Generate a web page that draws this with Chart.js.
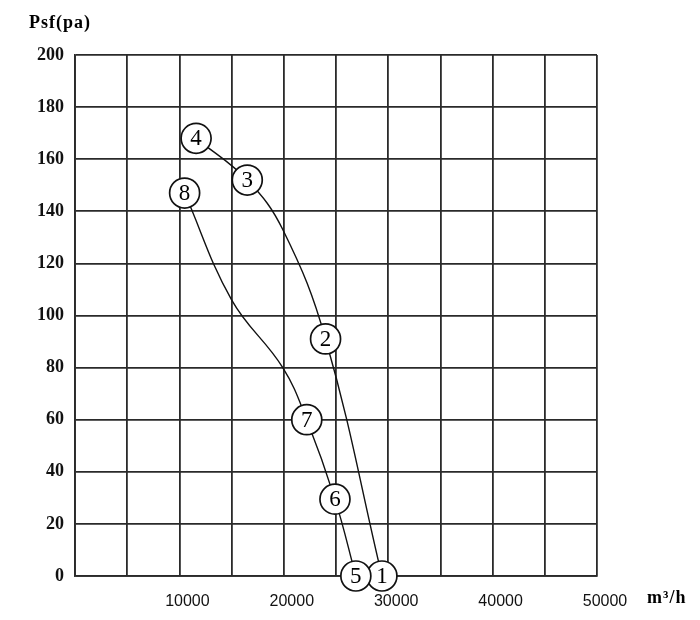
<!DOCTYPE html>
<html>
<head>
<meta charset="utf-8">
<script src="https://cdn.jsdelivr.net/npm/chart.js@4.4.1/dist/chart.umd.min.js"></script>
<style>
  html, body { margin: 0; padding: 0; background: #fff; }
  #wrap { width: 700px; height: 620px; position: relative; }
</style>
</head>
<body>
<div id="wrap"><canvas id="fanChart"></canvas></div>
<script>
// numbered operating points
const pointLabels = ['1', '2', '3', '4', '5', '6', '7', '8'];
const pointFlow = [29400, 24000, 16500, 11600, 26900, 24900, 22200, 10500];
const pointPsf = [0, 91, 152, 168, 0, 29.5, 60, 147];

// curve traces (extra points read where the curves bend between the markers)
const curveAFlow = [29400, 24000, 19900, 16500, 11600];
const curveAPsf = [0, 91, 133, 152, 168];
const curveBFlow = [26900, 24900, 22200, 19900, 15000, 10500];
const curveBPsf = [0, 29.5, 60, 80, 106, 147];

const xTicks = [10000, 20000, 30000, 40000, 50000];

const toXY = (xs, ys) => xs.map((x, i) => ({ x: x, y: ys[i] }));

// draws the numbers inside the circles and the two axis titles
const labelPlugin = {
  id: 'labels',
  afterDatasetsDraw(chart) {
    const ctx = chart.ctx;
    const meta = chart.getDatasetMeta(2);
    ctx.save();
    ctx.fillStyle = '#000';
    ctx.font = '23px "Liberation Serif", "DejaVu Serif", serif';
    ctx.textAlign = 'center';
    ctx.textBaseline = 'middle';
    meta.data.forEach((pt, i) => {
      ctx.fillText(pointLabels[i], pt.x, pt.y + 1);
    });
    ctx.font = 'bold 18px "Liberation Serif", "DejaVu Serif", serif';
    ctx.textAlign = 'left';
    ctx.letterSpacing = '1px';
    ctx.fillText('Psf(pa)', 29, 23);
    ctx.fillText('m³/h', 647, 598);
    ctx.restore();
  }
};

new Chart(document.getElementById('fanChart'), {
  type: 'scatter',
  data: {
    datasets: [
      {
        data: toXY(curveAFlow, curveAPsf),
        showLine: true,
        borderColor: '#111',
        borderWidth: 1.4,
        pointRadius: 0,
        tension: 0.4,
        order: 2
      },
      {
        data: toXY(curveBFlow, curveBPsf),
        showLine: true,
        borderColor: '#111',
        borderWidth: 1.4,
        pointRadius: 0,
        tension: 0.4,
        order: 2
      },
      {
        data: toXY(pointFlow, pointPsf),
        showLine: false,
        pointRadius: 15,
        pointBackgroundColor: '#fff',
        pointBorderColor: '#111',
        pointBorderWidth: 1.7,
        clip: false,
        order: 0
      }
    ]
  },
  options: {
    responsive: true,
    maintainAspectRatio: false,
    animation: false,
    layout: { padding: { left: 0, top: 55, right: 103, bottom: 0 } },
    plugins: {
      legend: { display: false },
      tooltip: { enabled: false }
    },
    scales: {
      x: {
        type: 'linear',
        min: 0,
        max: 50000,
        afterFit: (axis) => { axis.height = 44; },
        ticks: {
          stepSize: 5000,
          padding: 16,
          labelOffset: 8,
          color: '#111',
          font: { family: '"Liberation Sans", Arial, sans-serif', size: 16 },
          maxRotation: 0,
          autoSkip: false,
          callback: (v) => (xTicks.includes(v) ? String(v) : '')
        },
        grid: { color: '#2a2a2a', lineWidth: 1.8, drawTicks: false },
        border: { color: '#2a2a2a', width: 1.8 }
      },
      y: {
        min: 0,
        max: 200,
        afterFit: (axis) => { axis.width = 75; },
        ticks: {
          stepSize: 20,
          padding: 11,
          color: '#111',
          font: { family: '"Liberation Serif", "DejaVu Serif", serif', size: 18, weight: 'bold' }
        },
        grid: { color: '#2a2a2a', lineWidth: 1.8, drawTicks: false },
        border: { color: '#2a2a2a', width: 1.8 }
      }
    }
  },
  plugins: [labelPlugin]
});
</script>
</body>
</html>
